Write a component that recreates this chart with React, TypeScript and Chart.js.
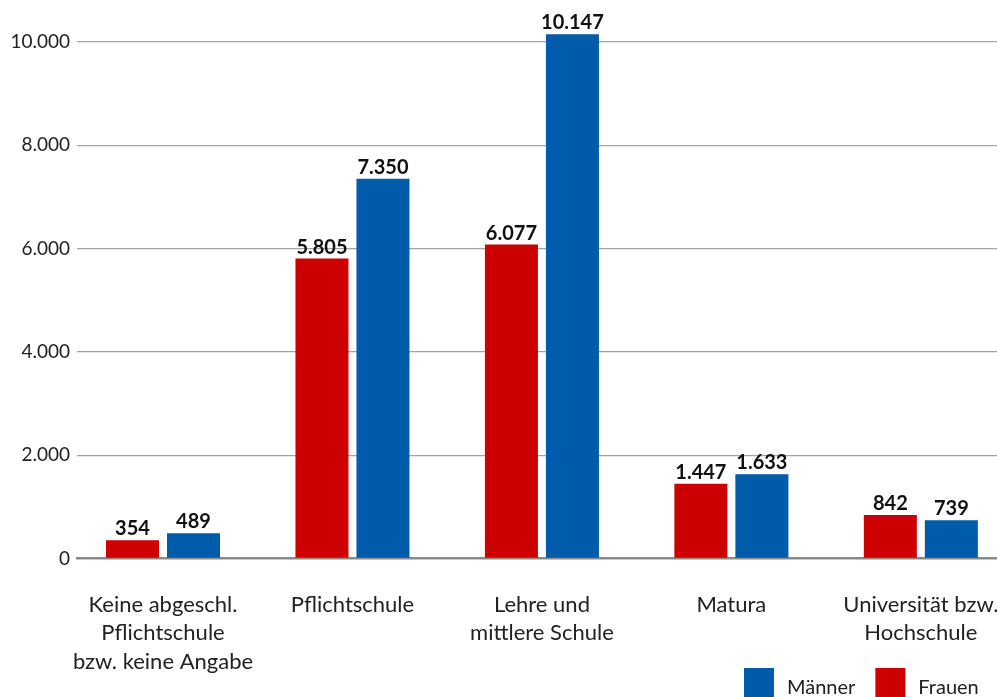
import React, { useEffect, useRef } from 'react';
import { Chart, registerables } from 'chart.js';

Chart.register(...registerables);

// Bildungsabschluss categories (multi-line tick labels)
const categories: string[][] = [
  ['Keine abgeschl.', 'Pflichtschule', 'bzw. keine Angabe'],
  ['Pflichtschule'],
  ['Lehre und', 'mittlere Schule'],
  ['Matura'],
  ['Universität bzw.', 'Hochschule'],
];
const frauen = [354, 5805, 6077, 1447, 842];
const maenner = [489, 7350, 10147, 1633, 739];
const yTicks = [0, 2000, 4000, 6000, 8000, 10000];
const Y_MAX = 10500;

const RED = '#CC0000';
const BLUE = '#005BAA';
const FONT = 'Lato';
const W = 997;
const H = 697;

const fmt = (v: number) => String(v).replace(/\B(?=(\d{3})+(?!\d))/g, '.');

const valueLabels = {
  id: 'valueLabels',
  afterDatasetsDraw(chart: any) {
    const { ctx } = chart;
    ctx.save();
    ctx.font = `bold 20px ${FONT}`;
    ctx.fillStyle = '#111';
    ctx.textAlign = 'center';
    ctx.textBaseline = 'alphabetic';
    chart.data.datasets.forEach((ds: any, di: number) => {
      const meta = chart.getDatasetMeta(di);
      meta.data.forEach((bar: any, i: number) => {
        ctx.fillText(fmt(ds.data[i].y), bar.x, bar.y - 5);
      });
    });
    ctx.restore();
  },
};

const bottomLegend = {
  id: 'bottomLegend',
  afterDraw(chart: any) {
    const { ctx } = chart;
    const items = [...chart.data.datasets].reverse();
    ctx.save();
    ctx.font = `20px ${FONT}`;
    ctx.textBaseline = 'alphabetic';
    ctx.textAlign = 'left';
    let x = 744;
    const top = 668;
    const box = 30;
    items.forEach((ds: any) => {
      ctx.fillStyle = ds.backgroundColor;
      ctx.fillRect(x, top, box, box);
      ctx.fillStyle = '#222';
      const tx = x + box + 13;
      ctx.fillText(ds.label, tx, 694);
      x = tx + ctx.measureText(ds.label).width + 20;
    });
    ctx.restore();
  },
};

export default function App() {
  const ref = useRef<HTMLCanvasElement | null>(null);

  useEffect(() => {
    if (!ref.current) return;
    const toPoints = (arr: number[]) => arr.map((y, x) => ({ x, y }));
    const chart = new Chart(ref.current, {
      type: 'bar',
      data: {
        datasets: [
          { label: 'Frauen', data: toPoints(frauen) as any, backgroundColor: RED },
          { label: 'Männer', data: toPoints(maenner) as any, backgroundColor: BLUE },
        ],
      },
      options: {
        responsive: false,
        animation: false,
        layout: { padding: { top: 16, left: 0, right: 0, bottom: 0 } },
        datasets: {
          bar: { categoryPercentage: 0.644, barPercentage: 0.869, borderWidth: 0 },
        },
        plugins: {
          legend: { display: false },
          tooltip: { enabled: false },
        },
        scales: {
          x: {
            type: 'linear',
            offset: false,
            min: -0.454,
            max: 4.402,
            afterBuildTicks: (axis: any) => {
              axis.ticks = categories.map((_, i) => ({ value: i }));
            },
            afterFit: (axis: any) => {
              axis.height = H - 558.5;
              axis.paddingLeft = 0;
              axis.paddingRight = 0;
            },
            ticks: {
              autoSkip: false,
              maxRotation: 0,
              minRotation: 0,
              padding: 24,
              color: '#222',
              font: { family: FONT, size: 22, lineHeight: 1.3 },
              callback: (v: any) => categories[Math.round(Number(v))] ?? '',
            },
            grid: { display: false },
            border: { color: '#8a8a8a', width: 2.5 },
          },
          y: {
            min: 0,
            max: Y_MAX,
            afterBuildTicks: (axis: any) => {
              axis.ticks = yTicks.map((value) => ({ value }));
            },
            afterFit: (axis: any) => {
              axis.width = 77;
              axis.paddingTop = 0;
              axis.paddingBottom = 0;
            },
            ticks: {
              padding: 7,
              color: '#222',
              font: { family: FONT, size: 19 },
              callback: (v: any) => fmt(Number(v)),
            },
            grid: {
              drawTicks: false,
              color: (c: any) => (c.tick && c.tick.value === 0 ? 'rgba(0,0,0,0)' : '#a3a3a3'),
              lineWidth: 1.3,
            },
            border: { display: false },
          },
        },
      },
      plugins: [valueLabels, bottomLegend],
    });
    return () => chart.destroy();
  }, []);

  return (
    <div style={{ position: 'absolute', left: 0, top: 0, width: W, height: H, overflow: 'hidden', background: '#fff' }}>
      <canvas ref={ref} width={W} height={H} style={{ display: 'block' }} />
    </div>
  );
}
